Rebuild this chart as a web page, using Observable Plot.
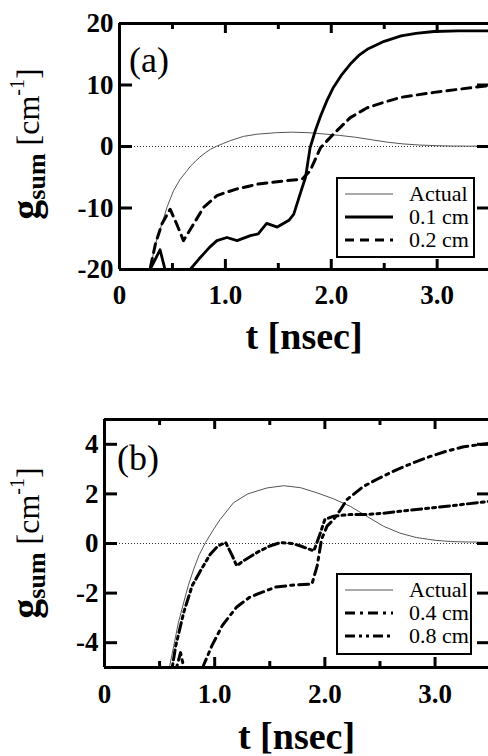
<!DOCTYPE html>
<html>
<head>
<meta charset="utf-8">
<script src="https://cdn.jsdelivr.net/npm/d3@7"></script>
<script src="https://cdn.jsdelivr.net/npm/@observablehq/plot@0.6"></script>
<style>
  html, body { margin: 0; padding: 0; background: #fff; }
  #wrap { position: relative; width: 488px; height: 756px; overflow: hidden; font-family: "Liberation Serif", "Times New Roman", Times, serif; color: #000; }
  .panel { position: absolute; left: 0; width: 488px; height: 378px; }
  .panel svg text { font-family: "Liberation Serif", "Times New Roman", Times, serif; }
  .tag { position: absolute; font-size: 36px; line-height: 1; }
  .ytitle { position: absolute; white-space: nowrap; line-height: 1; transform: translate(-50%, -50%) rotate(-90deg); font-size: 32px; }
  .ytitle .g { font-weight: bold; font-size: 40px; }
  .ytitle sub { font-weight: bold; font-size: 26px; vertical-align: -0.25em; }
  .ytitle sup { font-size: 20px; vertical-align: 0.75em; }
  .legend { position: absolute; border: 2px solid #000; background: #fff; box-sizing: border-box; }
  .legend .row { position: absolute; left: 0; height: 0; }
  .legend .row svg { position: absolute; top: -3px; }
  .legend .row span { position: absolute; font-size: 22px; line-height: 1; top: -11px; white-space: nowrap; }
</style>
</head>
<body>
<div id="wrap">
  <div class="panel" id="pa" style="top:0"></div>
  <div class="panel" id="pb" style="top:378px"></div>
</div>
<script>
// ---------------- data ----------------
const xTickValues = [0, 1, 2, 3];
const xTickLabels = ["0", "1.0", "2.0", "3.0"];
const xMinorValues = [0.5, 1.5, 2.5];
const yTicksA = [-20, -10, 0, 10, 20];
const yTicksB = [-4, -2, 0, 2, 4];

// Actual gain sum (shared by both panels)
const actualT = [0.26,0.289,0.34,0.40,0.45,0.51,0.57,0.63,0.67,0.72,0.76,0.81,0.86,0.917,0.98,1.05,1.17,1.3,1.475,1.626,1.78,1.93,2.08,2.23,2.38,2.53,2.68,2.83,3.0,3.14,3.3,3.49];
const actualG = [-22,-19.9,-15.8,-12.6,-9.8,-7.2,-5.4,-4.1,-3.2,-2.36,-1.7,-1.03,-0.45,0.04,0.5,0.97,1.64,2.0,2.24,2.33,2.25,2.04,1.8,1.5,1.1,0.7,0.42,0.24,0.13,0.08,0.06,0.05];

// 0.1 cm
const cm01T = [0.27,0.289,0.383,0.43,0.46,0.55,0.64,0.667,0.75,0.85,0.92,1.015,1.11,1.236,1.31,1.39,1.49,1.6,1.646,1.71,1.757,1.80,1.85,1.9,1.96,2.02,2.1,2.18,2.26,2.34,2.5,2.66,2.8,2.97,3.2,3.49];
const cm01G = [-21.5,-20,-16.8,-20,-22,-26,-22,-20,-18.3,-16.4,-15.3,-14.8,-15.3,-14.5,-14.2,-12.5,-13.1,-12.0,-11.0,-7.5,-5.0,-0.2,2.6,5.0,7.5,9.6,11.7,13.4,14.8,15.8,17.1,18.0,18.4,18.7,18.8,18.8];

// 0.2 cm
const cm02T = [0.26,0.289,0.34,0.40,0.478,0.54,0.604,0.70,0.794,0.92,1.0,1.11,1.31,1.55,1.725,1.80,1.9,2.02,2.18,2.34,2.5,2.66,2.97,3.2,3.49];
const cm02G = [-22,-19.9,-15.8,-12.6,-10.2,-12.6,-15.3,-12.6,-9.9,-8.0,-7.5,-6.9,-6.1,-5.6,-5.3,-3.95,-0.16,2.0,4.7,6.3,7.2,8.0,8.8,9.3,9.9];

// 0.4 cm
const cm04T = [0.62,0.66,0.69,0.72,0.76,0.85,0.9,0.977,1.07,1.2,1.32,1.55,1.7,1.883,1.93,1.97,2.02,2.08,2.14,2.2,2.35,2.5,2.65,2.8,2.95,3.1,3.26,3.49];
const cm04G = [-5.6,-4.9,-4.4,-5.0,-5.6,-5.8,-4.9,-4.1,-3.3,-2.56,-2.16,-1.76,-1.68,-1.63,-0.9,0.17,0.7,0.97,1.35,1.77,2.3,2.65,2.97,3.25,3.5,3.72,3.9,4.04];

// 0.8 cm
const cm08T = [0.58,0.615,0.645,0.72,0.796,0.871,0.96,1.03,1.10,1.16,1.2,1.26,1.385,1.5,1.6,1.7,1.78,1.9,1.96,2.0,2.08,2.23,2.38,2.53,2.68,2.83,2.98,3.2,3.49];
const cm08G = [-5.8,-5.0,-4.16,-2.76,-1.7,-1.1,-0.43,-0.1,0.04,-0.5,-0.9,-0.7,-0.36,-0.1,0.04,0.0,-0.1,-0.3,0.44,0.97,1.1,1.17,1.17,1.22,1.3,1.37,1.44,1.55,1.7];

// ---------------- styles ----------------
const FONT = '"Liberation Serif", "Times New Roman", Times, serif';
const styles = {
  "Actual": {stroke: "#555", strokeWidth: 1, dash: null},
  "0.1 cm": {stroke: "#000", strokeWidth: 2.8, dash: null},
  "0.2 cm": {stroke: "#000", strokeWidth: 3, dash: "9,6"},
  "0.4 cm": {stroke: "#000", strokeWidth: 3, dash: "10,5,3,5"},
  "0.8 cm": {stroke: "#000", strokeWidth: 3, dash: "10,4,3,4,3,4"}
};

const zip = (T, G) => T.map((t, i) => ({t, g: G[i]}));

const XDOM = [0, 3.485];
const W = 488, H = 378;

function panel(el, {yDomain, yTicks, mLeft, mTop, mBottom, series, xLabelOffset, tickPad}) {
  const plotH = H - mTop - mBottom;
  const pxY = plotH / (yDomain[1] - yDomain[0]);
  const pxX = (W - mLeft) / (XDOM[1] - XDOM[0]);
  const [y0, y1] = yDomain;
  const lines = series.map(([name, data]) => {
    const s = styles[name];
    return Plot.line(data, {x: "t", y: "g", stroke: s.stroke, strokeWidth: s.strokeWidth,
      strokeDasharray: s.dash, clip: true, curve: "linear"});
  });
  const chart = Plot.plot({
    width: W, height: H,
    marginLeft: mLeft, marginRight: 0, marginTop: mTop, marginBottom: mBottom,
    x: {domain: XDOM},
    y: {domain: yDomain},
    style: `font-family: ${FONT}; color: #000; background: transparent; overflow: visible;`,
    marks: [
      Plot.ruleY([0], {stroke: "#333", strokeWidth: 1, strokeDasharray: "1,2"}),
      ...lines,
      // bottom & top ticks
      Plot.ruleX(xTickValues, {x: d => d, y1: y0, y2: y0 + 10 / pxY, strokeWidth: 3}),
      Plot.ruleX(xMinorValues, {x: d => d, y1: y0, y2: y0 + 6 / pxY, strokeWidth: 3}),
      Plot.ruleX(xTickValues, {x: d => d, y1: y1, y2: y1 - 10 / pxY, strokeWidth: 3}),
      Plot.ruleX(xMinorValues, {x: d => d, y1: y1, y2: y1 - 6 / pxY, strokeWidth: 3}),
      // left & right ticks
      Plot.ruleY(yTicks, {y: d => d, x1: XDOM[0], x2: XDOM[0] + 13 / pxX, strokeWidth: 3}),
      Plot.ruleY(yTicks, {y: d => d, x1: XDOM[1] - 11 / pxX, x2: XDOM[1], strokeWidth: 3}),
      // frame (right side falls outside the picture)
      Plot.ruleY([y0, y1], {strokeWidth: 3}),
      Plot.ruleX([XDOM[0]], {strokeWidth: 3}),
      Plot.axisX({ticks: xTickValues, tickSize: 0, tickPadding: tickPad,
        tickFormat: d => xTickLabels[xTickValues.indexOf(d)], fontSize: 27, fontWeight: "bold", fontFamily: FONT, label: null}),
      Plot.axisY({ticks: yTicks, tickSize: 0, tickPadding: 6, tickFormat: d => String(d),
        fontSize: 27, fontWeight: "bold", fontFamily: FONT, label: null}),
      Plot.text(["t [nsec]"], {frameAnchor: "bottom", dy: xLabelOffset, fontSize: 38, fontWeight: "bold",
        fontFamily: FONT, textAnchor: "middle", lineAnchor: "middle"})
    ]
  });
  el.appendChild(chart);
}

panel(document.getElementById("pa"), {
  yDomain: [-20, 20], yTicks: yTicksA, mLeft: 119, mTop: 23, mBottom: 109, tickPad: 15, xLabelOffset: 67,
  series: [["Actual", zip(actualT, actualG)], ["0.1 cm", zip(cm01T, cm01G)], ["0.2 cm", zip(cm02T, cm02G)]]
});
panel(document.getElementById("pb"), {
  yDomain: [-5, 5], yTicks: yTicksB, mLeft: 104, mTop: 41, mBottom: 89, tickPad: 16, xLabelOffset: 69,
  series: [["Actual", zip(actualT, actualG)], ["0.4 cm", zip(cm04T, cm04G)], ["0.8 cm", zip(cm08T, cm08G)]]
});

// ---------------- annotations (text kept as real text) ----------------
const wrap = document.getElementById("wrap");
function addTag(txt, left, top) {
  const d = document.createElement("div");
  d.className = "tag"; d.textContent = txt;
  d.style.left = left + "px"; d.style.top = top + "px";
  wrap.appendChild(d);
}
addTag("(a)", 129, 42);
addTag("(b)", 117, 440);

function addYTitle(cx, cy) {
  const d = document.createElement("div");
  d.className = "ytitle";
  d.innerHTML = '<span class="g">g</span><sub>sum</sub> [cm<sup>-1</sup>]';
  d.style.left = cx + "px"; d.style.top = cy + "px";
  wrap.appendChild(d);
}
addYTitle(28, 144);
addYTitle(28, 543);

function addLegend(names, left, top, width, height, rowYs) {
  const box = document.createElement("div");
  box.className = "legend";
  Object.assign(box.style, {left: left + "px", top: top + "px", width: width + "px", height: height + "px"});
  names.forEach((name, i) => {
    const s = styles[name];
    const row = document.createElement("div");
    row.className = "row";
    row.style.top = (rowYs[i] - 2) + "px";
    const svg = d3.create("svg").attr("width", 50).attr("height", 6).style("left", "7px");
    svg.append("line").attr("x1", 0).attr("x2", 48).attr("y1", 3).attr("y2", 3)
      .attr("stroke", s.stroke).attr("stroke-width", s.strokeWidth)
      .attr("stroke-dasharray", s.dash);
    row.appendChild(svg.node());
    const sp = document.createElement("span");
    sp.textContent = name; sp.style.left = "71px";
    row.appendChild(sp);
    box.appendChild(row);
  });
  wrap.appendChild(box);
}
addLegend(["Actual", "0.1 cm", "0.2 cm"], 336, 177, 139, 81, [17, 40, 63]);
addLegend(["Actual", "0.4 cm", "0.8 cm"], 336, 573, 136, 82, [16.5, 39.5, 62.5]);
</script>
</body>
</html>
